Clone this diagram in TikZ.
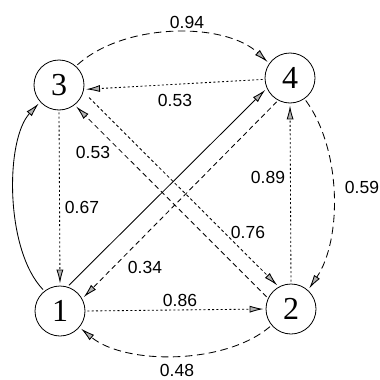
\documentclass[tikz,border=0pt]{standalone}
\usepackage{fontspec}
\setmainfont{Liberation Serif}
\newfontfamily\labfont{Liberation Sans}
\usetikzlibrary{arrows.meta}
\begin{document}
\begin{tikzpicture}[x=1pt,y=-1pt,
  state/.style={circle,draw,line width=0.8pt,minimum size=50pt,inner sep=0pt,font=\fontsize{32}{32}\selectfont},
  wt/.style={font=\labfont\fontsize{17.5}{17.5}\selectfont,inner sep=0pt},
  edge/.style={line width=0.85pt,-{Latex[length=14pt,width=7pt,fill=gray!60]},shorten >=2pt,shorten <=2pt},
  dotd/.style={dash pattern=on 2pt off 2.3pt},
  sdash/.style={dash pattern=on 3pt off 2.5pt},
  mdash/.style={dash pattern=on 5pt off 3.5pt},
  ldash/.style={dash pattern=on 7.5pt off 4.5pt}]
\useasboundingbox (0,0) rectangle (380,380);
\node[state] (n3) at (59,85) {3};
\node[state] (n4) at (290,78) {4};
\node[state] (n1) at (60,311) {1};
\node[state] (n2) at (291,309) {2};
% edges
\draw[edge,ldash] (n3.48) .. controls (125,22) and (225,22) .. (n4.145);
\draw[edge,dotd] (n4.183) -- (n3.-10);
\draw[edge,dotd] (n3.south) -- (n1.north);
\draw[edge] (n1.128) .. controls (5,250) and (5,140) .. (n3.-138);
\draw[edge] (n1.73) -- (n4.204);
\draw[edge,mdash] (n4.242) -- (n1.29);
\draw[edge,sdash,shorten <=8pt] (n3.-16) -- (n2.119);
\draw[edge,mdash] (n2.155) -- (n3.-52);
\draw[edge,dotd] (n2.north) -- (n4.south);
\draw[edge,ldash] (n4.-55) .. controls (342,150) and (342,240) .. (n2.48);
\draw[edge,dotd] (n1.east) -- (n2.west);
\draw[edge,ldash] (n2.-140) .. controls (225,365) and (125,365) .. (n1.-40);
% labels
\node[wt] (l94) at (187,22) {0.94};
\node[wt] (l53a) at (175,100) {0.53};
\node[wt] (l53b) at (93,152) {0.53};
\node[wt] (l67) at (82,207) {0.67};
\node[wt] (l89) at (268,177) {0.89};
\node[wt] (l59) at (362,187) {0.59};
\node[wt] (l76) at (248,232) {0.76};
\node[wt] (l34) at (145,267) {0.34};
\node[wt] (l86) at (180,300) {0.86};
\node[wt] (l48) at (177,370) {0.48};
\end{tikzpicture}
\end{document}
